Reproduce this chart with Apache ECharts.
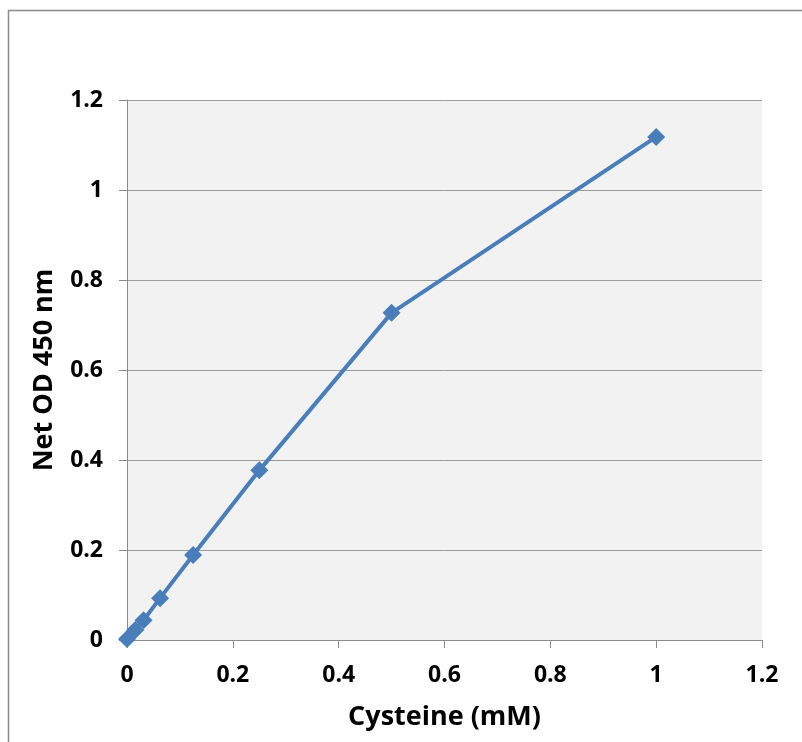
<!DOCTYPE html>
<html>
<head>
<meta charset="utf-8">
<script src="https://cdn.jsdelivr.net/npm/echarts@6/dist/echarts.min.js"></script>
<style>html,body{margin:0;padding:0;background:#fff;}#c{width:802px;height:742px;}</style>
</head>
<body>
<div id="c"></div>
<script>
const cysteine = [0, 0.015625, 0.03125, 0.0625, 0.125, 0.25, 0.5, 1];
const netOD = [0.002, 0.022, 0.044, 0.093, 0.189, 0.377, 0.727, 1.118];
const xTitle = 'Cysteine (mM)';
const yTitle = 'Net OD 450 nm';

const chart = echarts.init(document.getElementById('c'));
const font = '"Open Sans", Lato, sans-serif';
chart.setOption({
  animation: false,
  graphic: [{
    type: 'rect', shape: {x: 8.5, y: 10.5, width: 900, height: 900},
    style: {fill: 'none', stroke: '#8a8a8a', lineWidth: 1.5}, silent: true
  }],
  grid: {left: 127, top: 100, width: 635, height: 540, show: true,
         backgroundColor: '#f2f2f2', borderWidth: 0},
  xAxis: {
    type: 'value', min: 0, max: 1.2, interval: 0.2,
    name: xTitle, nameLocation: 'middle', nameGap: 64,
    nameTextStyle: {fontFamily: font, fontWeight: 'bold', fontSize: 27, color: '#000'},
    axisLine: {show: true, lineStyle: {color: '#8c8c8c', width: 1}},
    axisTick: {show: true, length: 8, lineStyle: {color: '#8c8c8c'}},
    axisLabel: {fontFamily: font, fontWeight: 'bold', fontSize: 23, color: '#000', margin: 24,
                formatter: v => String(+v.toFixed(1))},
    splitLine: {show: false}
  },
  yAxis: {
    type: 'value', min: 0, max: 1.2, interval: 0.2,
    name: yTitle, nameLocation: 'middle', nameGap: 69, nameRotate: 90,
    nameTextStyle: {fontFamily: font, fontWeight: 'bold', fontSize: 27, color: '#000'},
    axisLine: {show: true, lineStyle: {color: '#8c8c8c', width: 1}},
    axisTick: {show: true, length: 8, lineStyle: {color: '#8c8c8c'}},
    axisLabel: {fontFamily: font, fontWeight: 'bold', fontSize: 23, color: '#000', margin: 24,
                formatter: v => String(+v.toFixed(1))},
    splitLine: {show: true, lineStyle: {color: '#9a9a9a', width: 1}}
  },
  series: [{
    type: 'line',
    data: cysteine.map((x, i) => [x, netOD[i]]),
    symbol: 'diamond', symbolSize: 18,
    lineStyle: {color: '#4a7ebb', width: 4},
    itemStyle: {color: '#4a7ebb'}
  }]
});
</script>
</body>
</html>
